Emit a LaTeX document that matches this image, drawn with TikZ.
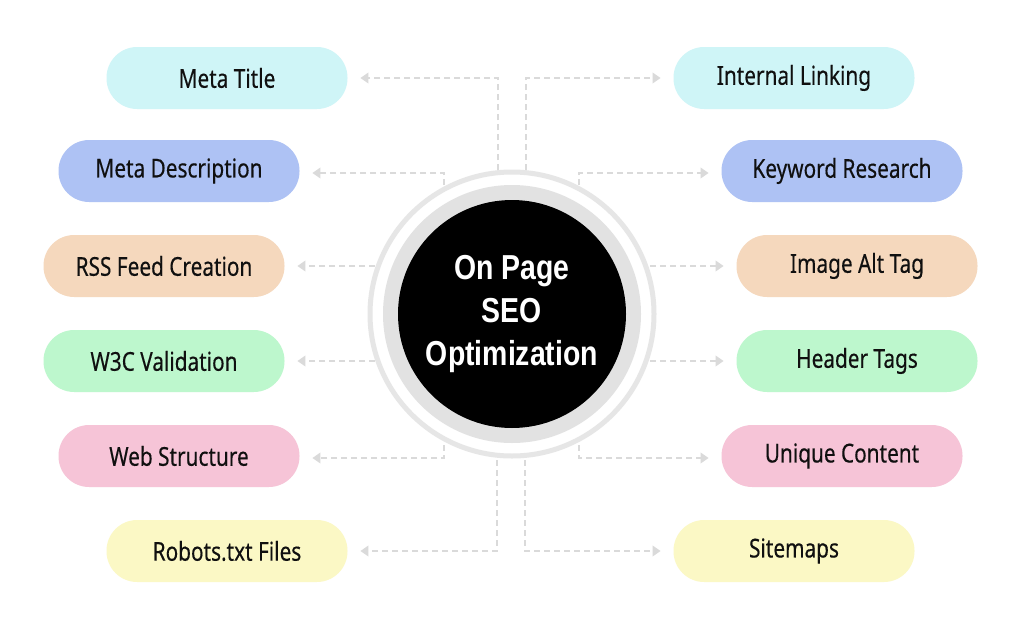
\documentclass[tikz,border=0pt]{standalone}
\usepackage{fontspec}
\setmainfont{Noto Sans}[FakeStretch=0.8,FakeBold=0.3]
\newfontfamily\hubfont{Liberation Sans}[FakeStretch=0.82]
\usetikzlibrary{arrows.meta}
\definecolor{cCyan}{HTML}{CFF5F7}
\definecolor{cBlue}{HTML}{AEC2F4}
\definecolor{cPeach}{HTML}{F5D8BD}
\definecolor{cMint}{HTML}{BDF7CD}
\definecolor{cPink}{HTML}{F6C4D7}
\definecolor{cYellow}{HTML}{FBF8C5}
\definecolor{cLine}{HTML}{DADADA}
\definecolor{cRing}{HTML}{E6E6E6}
\definecolor{cBand}{HTML}{E2E2E2}
\definecolor{cText}{HTML}{101010}
\begin{document}
\begin{tikzpicture}[x=0.75pt,y=-0.75pt,
  pill/.style={rectangle,rounded corners=23pt,minimum width=180.75pt,minimum height=46.5pt,
    inner sep=0pt,text=cText,font=\fontsize{19.5}{22}\selectfont},
  conn/.style={draw=cLine,line width=1.1pt,dash pattern=on 4.5pt off 3pt,
    -{Triangle[length=6pt,width=8pt,fill=cLine,sep=0pt]},shorten >=9.5pt}]
\useasboundingbox[fill=white] (0,0) rectangle (1024,628);
% pills left
\node[pill,fill=cCyan]   (mt)  at (227,78)  {Meta Title};
\node[pill,fill=cBlue]   (md)  at (179,171) {Meta Description};
\node[pill,fill=cPeach]  (rss) at (164,266) {RSS Feed Creation};
\node[pill,fill=cMint]   (w3c) at (164,361) {W3C Validation};
\node[pill,fill=cPink]   (ws)  at (179,456) {Web Structure};
\node[pill,fill=cYellow] (rb)  at (227,551) {Robots.txt Files};
% pills right
\node[pill,fill=cCyan]   (il)  at (794,78)  {Internal Linking};
\node[pill,fill=cBlue]   (kr)  at (842,171) {Keyword Research};
\node[pill,fill=cPeach]  (ia)  at (857,266) {Image Alt Tag};
\node[pill,fill=cMint]   (ht)  at (857,361) {Header Tags};
\node[pill,fill=cPink]   (uc)  at (842,456) {Unique Content};
\node[pill,fill=cYellow] (sm)  at (794,551) {Sitemaps};
% start points on the ring
\coordinate (s1) at (498,180);
\coordinate (s2) at (444,195);
\coordinate (s3) at (385,266);
\coordinate (s4) at (385,361);
\coordinate (s5) at (444,435);
\coordinate (s6) at (497,450);
\coordinate (t1) at (526,180);
\coordinate (t2) at (579,195);
\coordinate (t3) at (640,266);
\coordinate (t4) at (640,361);
\coordinate (t5) at (579,435);
\coordinate (t6) at (525,450);
% connectors
\draw[conn] (s1) |- (mt.east);
\draw[conn] (s2) |- ([yshift=-1.5pt]md.east);
\draw[conn] (s3) -- (rss.east);
\draw[conn] (s4) -- (w3c.east);
\draw[conn] (s5) |- ([yshift=-1.5pt]ws.east);
\draw[conn] (s6) |- (rb.east);
\draw[conn] (t1) |- (il.west);
\draw[conn] (t2) |- ([yshift=-1.5pt]kr.west);
\draw[conn] (t3) -- (ia.west);
\draw[conn] (t4) -- (ht.west);
\draw[conn] (t5) |- ([yshift=-1.5pt]uc.west);
\draw[conn] (t6) |- (sm.west);
% hub
\node[circle,draw=cRing,line width=3.75pt,fill=white,minimum size=213pt,inner sep=0pt] (ring) at (512,314) {};
\node[circle,fill=cBand,minimum size=193.5pt,inner sep=0pt] (band) at (512,314) {};
\node[circle,fill=black,minimum size=171pt,inner sep=0pt,text=white,align=center,
  font=\hubfont\bfseries\fontsize{26}{32}\selectfont] (hub) at (512,314) {On Page\\SEO\\Optimization};
\end{tikzpicture}
\end{document}
